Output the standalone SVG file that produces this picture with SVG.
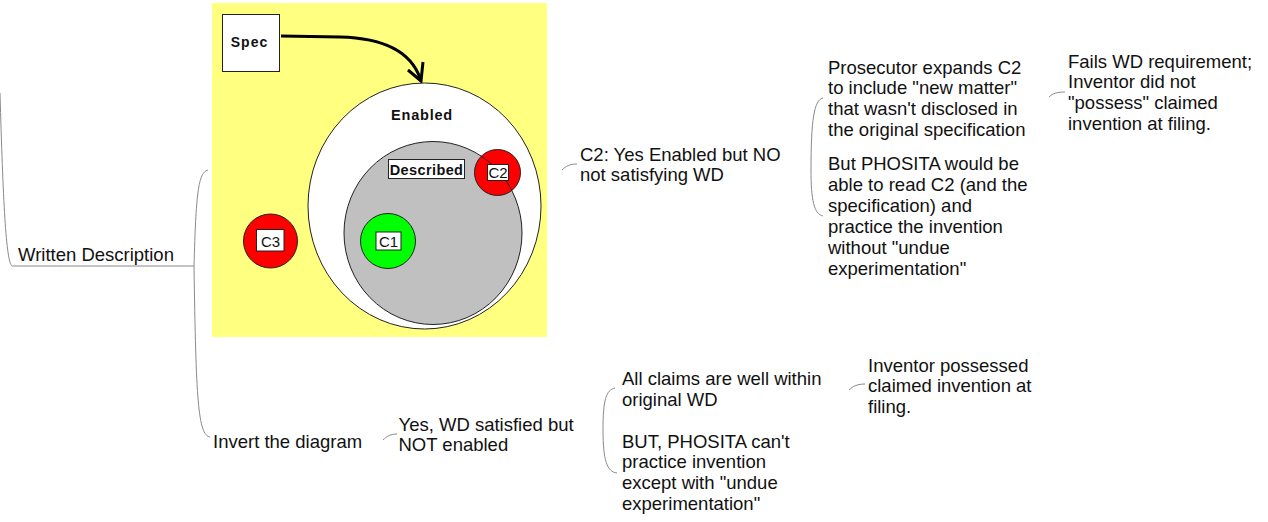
<svg xmlns="http://www.w3.org/2000/svg" width="1268" height="522" viewBox="0 0 1268 522">
<style>
.t{font-family:"Liberation Sans",Arial,sans-serif;font-size:18.5px;fill:#111}
.c{fill:none;stroke:#8a8a8a;stroke-width:1}
.b{font-family:"Liberation Sans",Arial,sans-serif;font-weight:bold;fill:#111;text-anchor:middle}
.l{font-family:"Liberation Sans",Arial,sans-serif;font-size:15px;fill:#111;text-anchor:middle}
.o{stroke:#222;stroke-width:1}
</style>
<rect width="1268" height="522" fill="#fff"/>
<g id="connectors">
<path class="c" d="M0,93 C3,200 6,262 12,266 L194,266"/>
<path class="c" d="M194,266 C196,195 198,172 208,170"/>
<path class="c" d="M194,266 C196,400 198,435 210,437"/>
<path class="c" d="M562,170 C566,166 570,164 577,164"/>
<path class="c" d="M811,170 C811,120 814,100 823,98"/>
<path class="c" d="M811,170 C811,200 814,214 823,216"/>
<path class="c" d="M1049,97 C1053,93 1058,92 1065,92"/>
<path class="c" d="M383,440 C387,436 391,434 397,434"/>
<path class="c" d="M603,430 C603,400 606,390 615,388"/>
<path class="c" d="M603,430 C603,460 607,472 617,473"/>
<path class="c" d="M849,390 C853,386 858,384 865,384"/>
</g>
<g id="root">
<text class="t" x="18" y="261">Written Description</text>
</g>
<g id="image">
<rect x="212" y="3" width="335" height="334" fill="#ffff80"/>
<g id="spec">
<rect x="222.5" y="14.5" width="57" height="57" fill="#fff" class="o"/>
<text class="b" x="249.5" y="46.5" font-size="14" letter-spacing="1">Spec</text>
</g>
<g id="arrow">
<path d="M281,36 L340,37 C382,38 410,50 420,78" fill="none" stroke="#000" stroke-width="3"/>
<path d="M408,70 L421,81 L423,62" fill="none" stroke="#000" stroke-width="3"/>
</g>
<g id="enabled">
<ellipse cx="424.5" cy="206" rx="116.5" ry="123" fill="#fff" class="o"/>
<text class="b" x="422" y="120" font-size="14.5" letter-spacing="0.8">Enabled</text>
</g>
<g id="described">
<ellipse cx="433" cy="233" rx="89" ry="91.5" fill="#c0c0c0"/>
</g>
<g id="c2">
<circle cx="497.5" cy="172.5" r="23" fill="#ff0000" class="o"/>
</g>
<ellipse cx="433" cy="233" rx="89" ry="91.5" fill="none" class="o"/>
<rect x="388.5" y="159.5" width="76" height="19" fill="#fff" class="o"/>
<text class="b" x="426.5" y="175" font-size="14.5" letter-spacing="0.4">Described</text>
<rect x="487.5" y="164.5" width="21" height="16" fill="#fff" class="o"/>
<text class="l" x="498" y="178.3">C2</text>
<g id="c1">
<circle cx="388" cy="241" r="27.5" fill="#00ff00" class="o"/>
<rect x="376" y="232" width="25" height="18" fill="#fff" class="o"/>
<text class="l" x="388.5" y="246.5">C1</text>
</g>
<g id="c3">
<circle cx="270.5" cy="241" r="27" fill="#ff0000" class="o"/>
<rect x="256.5" y="229.5" width="27.5" height="21.5" fill="#fff" class="o"/>
<text class="l" x="270.5" y="246.5">C3</text>
</g>
</g>
<g id="c2-node">
<text class="t" x="580" y="160.5">C2: Yes Enabled but NO</text>
<text class="t" x="580" y="181.4">not satisfying WD</text>
</g>
<g id="prosecutor">
<text class="t" x="828" y="73.5">Prosecutor expands C2</text>
<text class="t" x="828" y="94.4">to include "new matter"</text>
<text class="t" x="828" y="115.3">that wasn't disclosed in</text>
<text class="t" x="828" y="136.2">the original specification</text>
</g>
<g id="phosita">
<text class="t" x="828" y="170">But PHOSITA would be</text>
<text class="t" x="828" y="190.9">able to read C2 (and the</text>
<text class="t" x="828" y="211.8">specification) and</text>
<text class="t" x="828" y="232.7">practice the invention</text>
<text class="t" x="828" y="253.6">without "undue</text>
<text class="t" x="828" y="274.5">experimentation"</text>
</g>
<g id="fails">
<text class="t" x="1068" y="67.5">Fails WD requirement;</text>
<text class="t" x="1068" y="88.4">Inventor did not</text>
<text class="t" x="1068" y="109.3">"possess" claimed</text>
<text class="t" x="1068" y="130.2">invention at filing.</text>
</g>
<g id="invert">
<text class="t" x="213" y="447.5">Invert the diagram</text>
</g>
<g id="yes-wd">
<text class="t" x="398.5" y="430.5">Yes, WD satisfied but</text>
<text class="t" x="398.5" y="451.4">NOT enabled</text>
</g>
<g id="all-claims">
<text class="t" x="622" y="385">All claims are well within</text>
<text class="t" x="622" y="405.9">original WD</text>
</g>
<g id="but-phosita">
<text class="t" x="622" y="447.5">BUT, PHOSITA can't</text>
<text class="t" x="622" y="468.4">practice invention</text>
<text class="t" x="622" y="489.3">except with "undue</text>
<text class="t" x="622" y="510.2">experimentation"</text>
</g>
<g id="possessed">
<text class="t" x="868" y="371.5">Inventor possessed</text>
<text class="t" x="868" y="392.4">claimed invention at</text>
<text class="t" x="868" y="413.3">filing.</text>
</g>
</svg>
